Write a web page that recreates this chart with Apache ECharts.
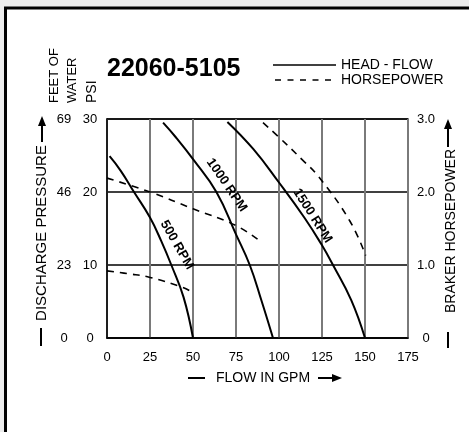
<!DOCTYPE html>
<html><head><meta charset="utf-8">
<script src="https://cdn.jsdelivr.net/npm/echarts@6/dist/echarts.min.js"></script>
<style>html,body{margin:0;padding:0;background:#ececec}#c{width:469px;height:432px}</style>
</head><body><div id="c"></div>
<script>
// ---- data ----
const flowTicks = [0, 25, 50, 75, 100, 125, 150, 175];
const psiTicks = [0, 10, 20, 30];
const feetTicks = [0, 23, 46, 69];
const hpTicks = [0, 1, 2, 3];
const hpTickLabels = ['0', '1.0', '2.0', '3.0'];

const head500 = [[1.5,24.9],[8,22.9],[15.7,20],[25,16.5],[31.5,13.3],[37.4,10],[44.5,5.6],[50,0]];
const head1000 = [[32.6,29.5],[40,27.5],[50,24.5],[63.6,20],[75,14.2],[83,10],[89.7,5.2],[96.5,0]];
const head1500 = [[70,29.6],[85,25.9],[100,21.3],[115,16.4],[125,12.7],[131.4,10],[142,5.2],[150,0]];

const hp500 = [[0,0.92],[12.5,0.88],[25,0.83],[43.2,0.70],[50,0.62]];
const hp1000 = [[0,2.19],[25,2.0],[50,1.77],[75,1.54],[88.8,1.33]];
const hp1500 = [[90.7,2.95],[100,2.75],[113.6,2.44],[122.7,2.22],[141,1.61],[150.4,1.13]];

const rpmLabels = ['500 RPM', '1000 RPM', '1500 RPM'];
const titleText = '22060-5105';

// ---- chart ----
const FONT = 'Arial, "Liberation Sans", sans-serif';
const chart = echarts.init(document.getElementById('c'), null, {renderer: 'canvas'});
const solid = (d) => ({type:'line', data:d, yAxisIndex:0, smooth:0.45, symbol:'none', silent:true,
  lineStyle:{color:'#000', width:2}, z:5});
const dashed = (d) => ({type:'line', data:d, yAxisIndex:2, smooth:0.45, symbol:'none', silent:true,
  lineStyle:{color:'#000', width:1.6, type:[7,6]}, z:5});

const lbl = {color:'#000', fontFamily: FONT, fontSize:13};
const rad = Math.PI/180;

chart.setOption({
  backgroundColor:'#ececec',
  animation:false,
  grid:{left:107, top:119, width:301, height:219, show:true, borderColor:'#333', borderWidth:1.5, backgroundColor:'#fff'},
  xAxis:{type:'value', min:0, max:175, interval:25,
    axisLine:{show:true, lineStyle:{color:'#000', width:1.5}}, axisTick:{show:false},
    axisLabel:Object.assign({margin:13, formatter:(v)=> flowTicks.includes(v)? String(v):''}, lbl),
    splitLine:{show:true, lineStyle:{color:'#7a7a7a', width:2}}},
  yAxis:[
    {type:'value', min:0, max:30, interval:10, position:'left',
      axisLine:{show:true, lineStyle:{color:'#000', width:1.5}}, axisTick:{show:false},
      axisLabel:Object.assign({margin:17, align:'center', formatter:(v)=> psiTicks.includes(v)? String(v):''}, lbl),
      splitLine:{show:true, lineStyle:{color:'#000', width:1.5}}},
    {type:'value', min:0, max:69, interval:23, position:'left',
      axisLine:{show:false}, axisTick:{show:false}, splitLine:{show:false},
      axisLabel:Object.assign({margin:43, align:'center', formatter:(v)=> feetTicks.includes(v)? String(v):''}, lbl)},
    {type:'value', min:0, max:3, interval:1, position:'right',
      axisLine:{show:false}, axisTick:{show:false}, splitLine:{show:false},
      axisLabel:Object.assign({margin:18, align:'center', formatter:(v)=> {const i=hpTicks.indexOf(v); return i>=0? hpTickLabels[i]:'';}}, lbl)}
  ],
  series:[solid(head500), solid(head1000), solid(head1500), dashed(hp500), dashed(hp1000), dashed(hp1500)],
  graphic:[
    // outer frame
    {type:'rect', z:-10, shape:{x:5.5, y:8, width:520, height:480}, style:{fill:'#fff', stroke:'#000', lineWidth:3}},
    // title
    {type:'text', x:107, y:69, style:{text:titleText, font:'bold 25px '+FONT, fill:'#000', align:'left', verticalAlign:'middle'}},
    // legend
    {type:'line', shape:{x1:273, y1:65, x2:336, y2:65}, style:{stroke:'#000', lineWidth:1.5}},
    {type:'line', shape:{x1:275, y1:80, x2:336, y2:80}, style:{stroke:'#000', lineWidth:1.5, lineDash:[6,6.5]}},
    {type:'text', x:341, y:65, style:{text:'HEAD - FLOW', font:'14px '+FONT, fill:'#000', align:'left', verticalAlign:'middle'}},
    {type:'text', x:341, y:80, style:{text:'HORSEPOWER', font:'14px '+FONT, fill:'#000', align:'left', verticalAlign:'middle'}},
    // left axis header
    {type:'text', x:54.5, y:103, rotation:Math.PI/2, style:{text:'FEET OF', font:'13px '+FONT, fill:'#000', align:'left', verticalAlign:'middle'}},
    {type:'text', x:72.5, y:103, rotation:Math.PI/2, style:{text:'WATER', font:'13px '+FONT, fill:'#000', align:'left', verticalAlign:'middle'}},
    {type:'text', x:92.5, y:103, rotation:Math.PI/2, style:{text:'PSI', font:'14px '+FONT, fill:'#000', align:'left', verticalAlign:'middle'}},
    // left axis title with arrow
    {type:'text', x:42, y:233, rotation:Math.PI/2, style:{text:'DISCHARGE PRESSURE', font:'15px '+FONT, fill:'#000', align:'center', verticalAlign:'middle'}},
    {type:'line', shape:{x1:42, y1:142, x2:42, y2:124}, style:{stroke:'#000', lineWidth:2}},
    {type:'polygon', shape:{points:[[42,116],[38,126],[46,126]]}, style:{fill:'#000'}},
    {type:'line', shape:{x1:41, y1:328, x2:41, y2:346}, style:{stroke:'#000', lineWidth:2}},
    // right axis title with arrow
    {type:'text', x:451, y:231, rotation:Math.PI/2, style:{text:'BRAKER HORSEPOWER', font:'14px '+FONT, fill:'#000', align:'center', verticalAlign:'middle'}},
    {type:'line', shape:{x1:448, y1:147, x2:448, y2:127}, style:{stroke:'#000', lineWidth:2}},
    {type:'polygon', shape:{points:[[448,119],[444,129],[452,129]]}, style:{fill:'#000'}},
    {type:'line', shape:{x1:448, y1:332, x2:448, y2:348}, style:{stroke:'#000', lineWidth:2}},
    // x axis title with arrow
    {type:'text', x:263, y:378, style:{text:'FLOW IN GPM', font:'14px '+FONT, fill:'#000', align:'center', verticalAlign:'middle'}},
    {type:'line', shape:{x1:188, y1:378, x2:205, y2:378}, style:{stroke:'#000', lineWidth:2}},
    {type:'line', shape:{x1:318, y1:378, x2:334, y2:378}, style:{stroke:'#000', lineWidth:2}},
    {type:'polygon', shape:{points:[[342,378],[332,374],[332,382]]}, style:{fill:'#000'}},
    // RPM labels
    {type:'text', x:177, y:245, rotation:-60*rad, z:10, style:{text:rpmLabels[0], font:'bold 13px '+FONT, fill:'#000', align:'center', verticalAlign:'middle'}},
    {type:'text', x:226.7, y:185, rotation:-55.5*rad, z:10, style:{text:rpmLabels[1], font:'bold 13px '+FONT, fill:'#000', align:'center', verticalAlign:'middle'}},
    {type:'text', x:312.5, y:215.8, rotation:-57.5*rad, z:10, style:{text:rpmLabels[2], font:'bold 13px '+FONT, fill:'#000', align:'center', verticalAlign:'middle'}}
  ]
});
</script></body></html>
